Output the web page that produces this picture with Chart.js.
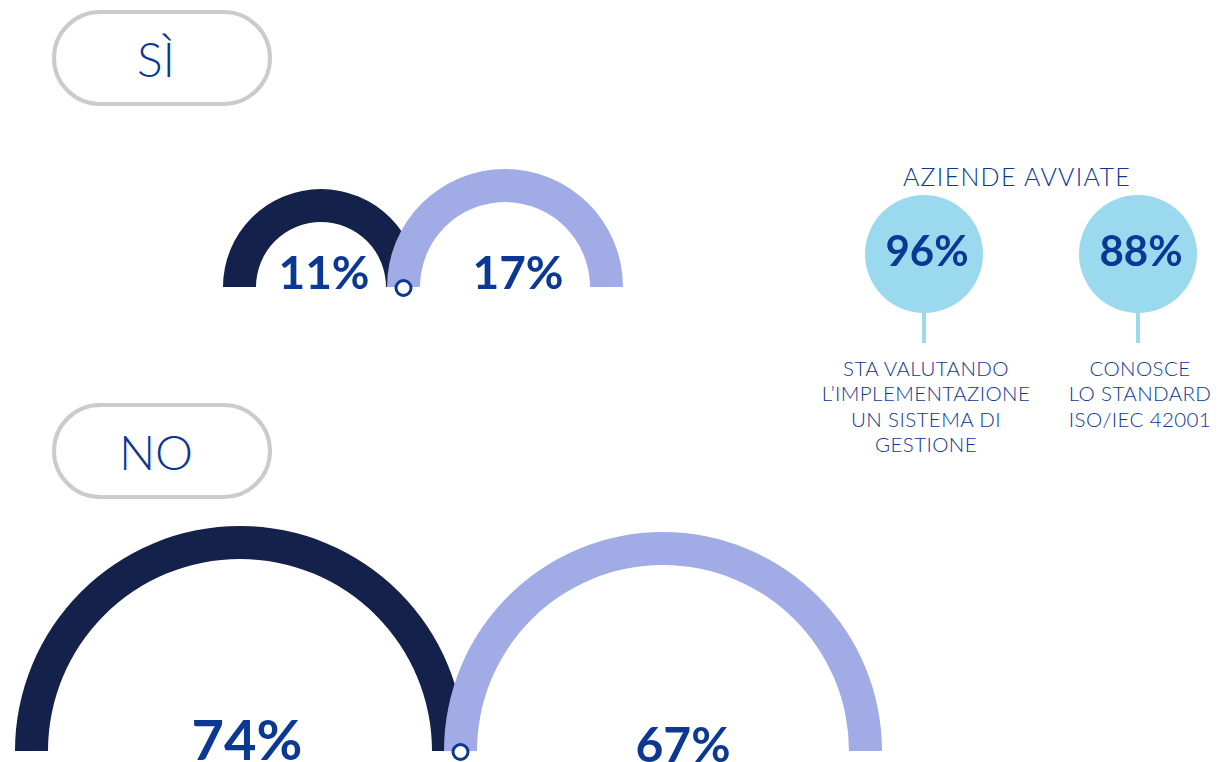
<!DOCTYPE html>
<html lang="it">
<head>
<meta charset="utf-8">
<title>Aziende e ISO/IEC 42001</title>
<script src="https://cdn.jsdelivr.net/npm/chart.js@4"></script>
<style>
  body { margin: 0; background: #fff; }
  #page { position: relative; width: 1222px; height: 762px; overflow: hidden;
          font-family: Lato, "Noto Sans", sans-serif; color: #0b3893; }
  canvas { position: absolute; }
  .pill { position: absolute; left: 52px; height: 88px; border: 4px solid #cbcbcb;
          border-radius: 48px; display: flex; align-items: center; justify-content: center;
          font-size: 48px; font-weight: 300; padding-right: 12px; box-sizing: content-box; width: 200px; }
  .title { position: absolute; left: 817px; width: 400px; top: 164px; text-align: center;
           font-size: 25px; line-height: 1; font-weight: 300; letter-spacing: 1.3px; }
  .stem { position: absolute; width: 4px; background: #9bd9ef; }
  .label { position: absolute; width: 240px; text-align: center; font-size: 20.5px;
           line-height: 25.3px; font-weight: 300; white-space: nowrap; letter-spacing: 0.4px; }
</style>
</head>
<body>
<div id="page"></div>
<script>
// data
const groups = ['SÌ', 'NO'];
const darkValues = [11, 74];
const lightValues = [17, 67];
const avviateTitle = 'AZIENDE AVVIATE';
const avviateValues = [96, 88];
const avviateLabels = [
    ['STA VALUTANDO', 'L’IMPLEMENTAZIONE', 'UN SISTEMA DI', 'GESTIONE'],
    ['CONOSCE', 'LO STANDARD', 'ISO/IEC 42001']
];

// layout (one entry per group)
const pillTops = [10, 403];
const darkLayout = [
    {cx: 321, cy: 287, r: 98, w: 33, font: 46, dx: 3, dy: 2},
    {cx: 240, cy: 751, r: 225, w: 33, font: 56, dx: 7, dy: 9}
];
const lightLayout = [
    {cx: 505, cy: 287, r: 118, w: 33, font: 46, dx: 13, dy: 2},
    {cx: 663, cy: 751, r: 219, w: 33, font: 48, dx: 20, dy: 11}
];
const circleLayout = [
    {cx: 924, cy: 254, r: 59},
    {cx: 1138, cy: 254, r: 59}
];

const DARK = '#13214b';
const LIGHT = '#a1abe5';
const SKY = '#9bd9ef';
const TEXT = '#0b3893';
const PAD = 14;

const page = document.getElementById('page');

function makeCanvas(left, top, w, h) {
    const c = document.createElement('canvas');
    c.width = w; c.height = h;
    c.style.left = left + 'px'; c.style.top = top + 'px';
    c.style.width = w + 'px'; c.style.height = h + 'px';
    page.appendChild(c);
    return c;
}

// writes the value (and optionally the joint marker) on an arc
const valueLabel = {
    id: 'valueLabel',
    afterDatasetsDraw(chart, args, opts) {
        const arc = chart.getDatasetMeta(0).data[0];
        const ctx = chart.ctx;
        const value = chart.data.datasets[0].data[0];
        ctx.save();
        if (opts.marker) {
            const mx = arc.x - (arc.outerRadius + arc.innerRadius) / 2;
            ctx.beginPath();
            ctx.arc(mx, arc.y + 1, 7.5, 0, Math.PI * 2);
            ctx.fillStyle = '#fff';
            ctx.fill();
            ctx.lineWidth = 3;
            ctx.strokeStyle = TEXT;
            ctx.stroke();
        }
        ctx.fillStyle = TEXT;
        ctx.font = '700 ' + opts.font + 'px Lato, "Noto Sans", sans-serif';
        ctx.textAlign = 'center';
        ctx.textBaseline = 'alphabetic';
        ctx.fillText(value + '%', arc.x + opts.dx, arc.y + opts.dy);
        ctx.restore();
    }
};

function halfRing(group, value, lay, color, marker) {
    const canvas = makeCanvas(lay.cx - lay.r, lay.cy - lay.r, lay.r * 2, lay.r + PAD);
    new Chart(canvas, {
        type: 'doughnut',
        data: {
            labels: [group],
            datasets: [{data: [value], backgroundColor: color, borderWidth: 0, hoverOffset: 0}]
        },
        options: {
            responsive: false,
            animation: false,
            events: [],
            rotation: -90,
            circumference: 180,
            cutout: ((lay.r - lay.w) / lay.r * 100) + '%',
            layout: {padding: {bottom: PAD}},
            plugins: {
                legend: {display: false},
                tooltip: {enabled: false},
                valueLabel: {font: lay.font, dx: lay.dx, dy: lay.dy, marker: marker}
            }
        },
        plugins: [valueLabel]
    });
}

groups.forEach((g, i) => {
    const pill = document.createElement('div');
    pill.className = 'pill';
    pill.style.top = pillTops[i] + 'px';
    pill.textContent = g;
    page.appendChild(pill);

    halfRing(g, darkValues[i], darkLayout[i], DARK, false);
    halfRing(g, lightValues[i], lightLayout[i], LIGHT, true);
});

// right side: companies already started
const title = document.createElement('div');
title.className = 'title';
title.textContent = avviateTitle;
page.appendChild(title);

avviateValues.forEach((v, i) => {
    const lay = circleLayout[i];
    const stem = document.createElement('div');
    stem.className = 'stem';
    stem.style.left = (lay.cx - 2) + 'px';
    stem.style.top = (lay.cy + lay.r - 2) + 'px';
    stem.style.height = (343 - (lay.cy + lay.r - 2)) + 'px';
    page.appendChild(stem);

    const canvas = makeCanvas(lay.cx - lay.r, lay.cy - lay.r, lay.r * 2, lay.r * 2);
    new Chart(canvas, {
        type: 'pie',
        data: {
            labels: [avviateLabels[i].join(' ')],
            datasets: [{data: [v], backgroundColor: SKY, borderWidth: 0, hoverOffset: 0}]
        },
        options: {
            responsive: false,
            animation: false,
            events: [],
            plugins: {
                legend: {display: false},
                tooltip: {enabled: false},
                valueLabel: {font: 42, dx: 3, dy: 12, marker: false}
            }
        },
        plugins: [valueLabel]
    });

    const label = document.createElement('div');
    label.className = 'label';
    label.style.left = (lay.cx + 2 - 120) + 'px';
    label.style.top = '356px';
    label.innerHTML = avviateLabels[i].join('<br>');
    page.appendChild(label);
});
</script>
</body>
</html>
